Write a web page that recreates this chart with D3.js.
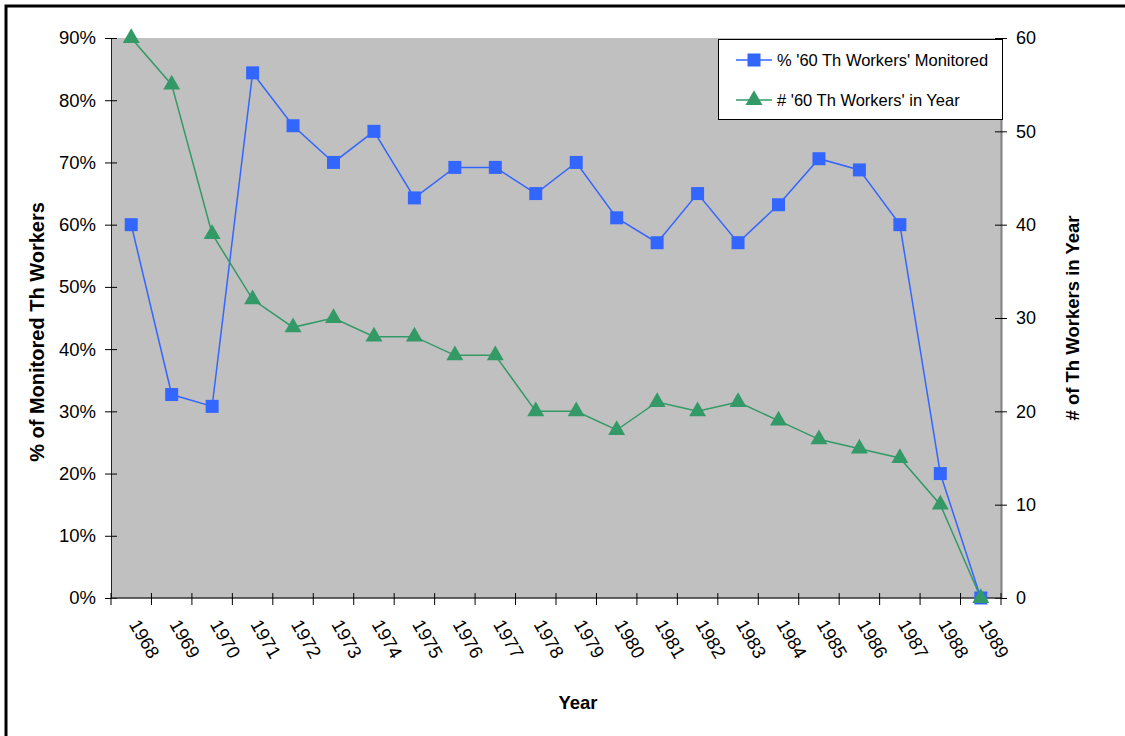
<!DOCTYPE html>
<html>
<head>
<meta charset="utf-8">
<script src="https://cdn.jsdelivr.net/npm/d3@7"></script>
<style>
  html, body { margin: 0; padding: 0; background: #fff; }
  svg { display: block; font-family: "Liberation Sans", Arial, sans-serif; }
</style>
</head>
<body>
<svg id="chart" width="1125" height="736"></svg>
<script>
const years = ["1968","1969","1970","1971","1972","1973","1974","1975","1976","1977","1978","1979","1980","1981","1982","1983","1984","1985","1986","1987","1988","1989"];
const pctMonitored = [60.0, 32.7, 30.8, 84.4, 75.9, 70.0, 75.0, 64.3, 69.2, 69.2, 65.0, 70.0, 61.1, 57.1, 65.0, 57.1, 63.2, 70.6, 68.8, 60.0, 20.0, 0.0];
const workersInYear = [60, 55, 39, 32, 29, 30, 28, 28, 26, 26, 20, 20, 18, 21, 20, 21, 19, 17, 16, 15, 10, 0];
const leftTicks = [0, 10, 20, 30, 40, 50, 60, 70, 80, 90];
const rightTicks = [0, 10, 20, 30, 40, 50, 60];
const seriesNames = ["% '60 Th Workers' Monitored", "# '60 Th Workers' in Year"];

const svg = d3.select("#chart");
const plot = {left: 111, right: 1001, top: 38, bottom: 598};
const blue = "#3366FF", green = "#339966";

// outer border
svg.append("rect").attr("x", 6).attr("y", 6).attr("width", 1140).attr("height", 760)
  .attr("fill", "none").attr("stroke", "#000").attr("stroke-width", 3);

const x = d3.scaleBand().domain(years).range([plot.left, plot.right]);
const yL = d3.scaleLinear().domain([0, 90]).range([plot.bottom, plot.top]);
const yR = d3.scaleLinear().domain([0, 60]).range([plot.bottom, plot.top]);

// plot background
svg.append("rect").attr("x", plot.left).attr("y", plot.top)
  .attr("width", plot.right - plot.left).attr("height", plot.bottom - plot.top)
  .attr("fill", "#C0C0C0");

// left axis
const gL = svg.append("g").attr("transform", `translate(${plot.left},0)`)
  .call(d3.axisLeft(yL).tickValues(leftTicks).tickFormat(d => d + "%").tickSizeInner(6).tickSizeOuter(0).tickPadding(9));
gL.select(".domain").attr("stroke", "#222");
gL.selectAll(".tick line").attr("x1", 6).attr("x2", -6).attr("stroke", "#000");
gL.selectAll(".tick text").attr("font-size", 18.5).attr("fill", "#000").attr("font-family", "Liberation Sans, Arial, sans-serif");

// right axis
const gR = svg.append("g").attr("transform", `translate(${plot.right},0)`)
  .call(d3.axisRight(yR).tickValues(rightTicks).tickSizeInner(6).tickSizeOuter(0).tickPadding(9));
gR.select(".domain").attr("stroke", "#808080").attr("stroke-width", 2);
gR.selectAll(".tick line").attr("x1", -6).attr("x2", 6).attr("stroke", "#000");
gR.selectAll(".tick text").attr("font-size", 18).attr("fill", "#000").attr("font-family", "Liberation Sans, Arial, sans-serif");

// bottom axis: ticks at category boundaries
const boundaries = years.map(y => x(y)).concat([plot.right]);
const gB = svg.append("g");
gB.append("line").attr("x1", plot.left).attr("x2", plot.right).attr("y1", plot.bottom).attr("y2", plot.bottom)
  .attr("stroke", "#333").attr("stroke-width", 1.5);
gB.selectAll("line.tk").data(boundaries).join("line").attr("class", "tk")
  .attr("x1", d => d).attr("x2", d => d).attr("y1", plot.bottom - 5).attr("y2", plot.bottom + 7)
  .attr("stroke", "#000");
gB.selectAll("text").data(years).join("text")
  .attr("transform", d => `translate(${x(d) + x.bandwidth() / 2 + 3},${plot.bottom + 23}) rotate(60)`)
  .attr("font-size", 18.5).attr("dy", "0.35em").attr("text-anchor", "start")
  .text(d => d);

// lines
const ptsG = years.map((y, i) => [x(y) + x.bandwidth() / 2, yR(workersInYear[i])]);
const ptsB = years.map((y, i) => [x(y) + x.bandwidth() / 2, yL(pctMonitored[i])]);
const line = d3.line();
svg.append("path").attr("d", line(ptsB)).attr("fill", "none").attr("stroke", blue).attr("stroke-width", 1.5);
svg.append("path").attr("d", line(ptsG)).attr("fill", "none").attr("stroke", green).attr("stroke-width", 1.5);

const sq = d3.symbol().type(d3.symbolSquare).size(169);
const tri = d3.symbol().type(d3.symbolTriangle).size(125);
svg.append("g").selectAll("path").data(ptsB).join("path")
  .attr("d", sq).attr("transform", d => `translate(${d[0]},${d[1]})`).attr("fill", blue);
svg.append("g").selectAll("path").data(ptsG).join("path")
  .attr("d", tri).attr("transform", d => `translate(${d[0]},${d[1]})`).attr("fill", green);

// axis titles
svg.append("text").attr("transform", `translate(44,332) rotate(-90)`)
  .attr("text-anchor", "middle").attr("font-weight", "bold").attr("font-size", 20).text("% of Monitored Th Workers");
svg.append("text").attr("transform", `translate(1079,318) rotate(-90)`)
  .attr("text-anchor", "middle").attr("font-weight", "bold").attr("font-size", 18.5).text("# of Th Workers in Year");
svg.append("text").attr("x", 578).attr("y", 709)
  .attr("text-anchor", "middle").attr("font-weight", "bold").attr("font-size", 18.5).text("Year");

// legend
const lg = svg.append("g");
lg.append("rect").attr("x", 718.5).attr("y", 39.5).attr("width", 284).attr("height", 80)
  .attr("fill", "#fff").attr("stroke", "#000");
const items = [
  {name: seriesNames[0], color: blue, sym: sq, y: 60},
  {name: seriesNames[1], color: green, sym: tri, y: 100}
];
items.forEach(it => {
  lg.append("line").attr("x1", 736).attr("x2", 772).attr("y1", it.y).attr("y2", it.y)
    .attr("stroke", it.color).attr("stroke-width", 1.5);
  lg.append("path").attr("d", it.sym).attr("transform", `translate(754,${it.y})`).attr("fill", it.color);
  lg.append("text").attr("x", 777).attr("y", it.y).attr("dy", "0.35em").attr("font-size", 16.5).text(it.name);
});
</script>
</body>
</html>
